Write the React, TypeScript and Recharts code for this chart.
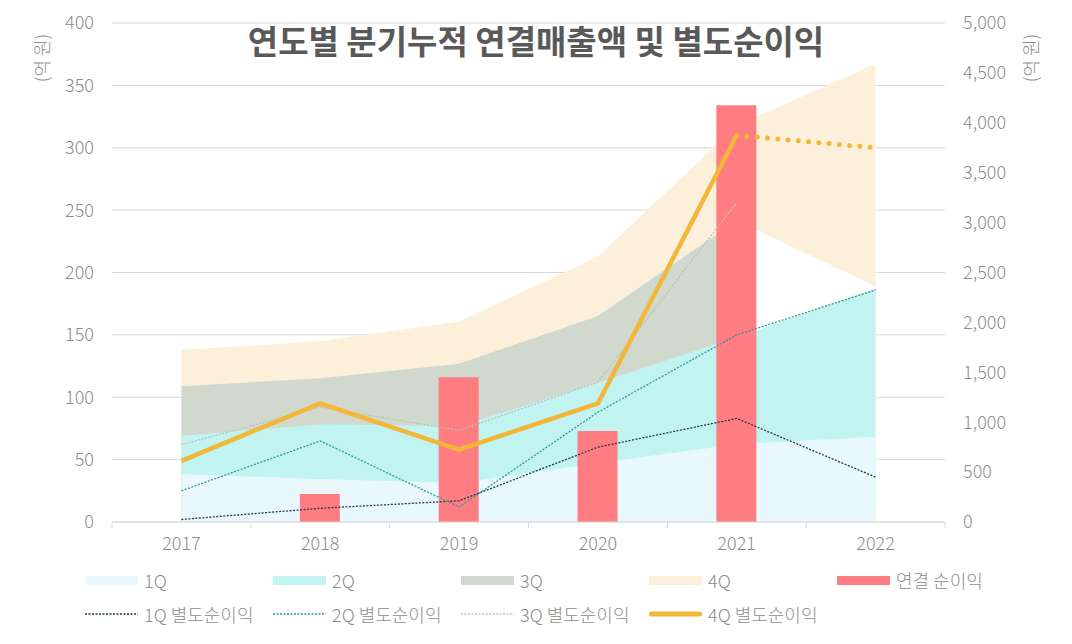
import { ComposedChart, Area, Bar, Line, XAxis, YAxis, CartesianGrid } from 'recharts'

// 연도별 분기누적 연결매출액 (우축, 억 원) / 순이익 (좌축, 억 원)
const years = ['2017', '2018', '2019', '2020', '2021', '2022']
const q1Sales = [480, 430, 390, 590, 780, 855]
const q2Sales = [865, 980, 960, 1395, 1850, 2340]
const q3Sales: (number | null)[] = [1360, 1440, 1585, 2065, 3020, null]
const q4Sales = [1725, 1810, 2010, 2660, 3975, 4590]
// 4Q 영역 아래쪽 빈 구간 (2021→2022)
const q4Lower: (number | null)[] = [null, null, null, null, 3020, 2360]

const consolidatedProfit: (number | null)[] = [null, 22.5, 116, 73, 334, null]
const q1Profit = [2, 11, 17, 60, 83, 36]
const q2Profit = [25, 65, 12, 88, 150, 186]
const q3Profit: (number | null)[] = [62, 92, 73.5, 112, 256, null]
const q4Profit: (number | null)[] = [49, 95, 58, 95, 310, null]
const q4ProfitEst: (number | null)[] = [null, null, null, null, 310, 300]

const leftTicks = [0, 50, 100, 150, 200, 250, 300, 350, 400]
const rightTicks = [0, 500, 1000, 1500, 2000, 2500, 3000, 3500, 4000, 4500, 5000]

const FONT = '"Noto Sans CJK KR", "Noto Sans", sans-serif'
const TEXT = '#8c8c8c'
const GRID = '#d9d9d9'

const C = {
  q1: '#e8f8fd',
  q2: '#c1f3f0',
  q3: '#d1d8cd',
  q4: '#fcf0da',
  bar: '#ff7c80',
  l1: '#1f3b4d',
  l2: '#2e9a99',
  l3: '#b9c5b6',
  l4: '#f2b738',
}

const data = years.map((y, i) => ({
  year: y,
  q1: q1Sales[i],
  q2: q2Sales[i],
  q3: q3Sales[i],
  q4: q4Sales[i],
  q4Lower: q4Lower[i],
  profit: consolidatedProfit[i],
  p1: q1Profit[i],
  p2: q2Profit[i],
  p3: q3Profit[i],
  p4: q4Profit[i],
  p4e: q4ProfitEst[i],
}))

const W = 1072
const H = 560
const margin = { top: 23, right: 67, left: 52, bottom: 8 }
const halfBand = (W - margin.left - margin.right - 120) / years.length / 2

const XTick = (props: any) => {
  const { x, y, payload, index } = props
  return (
    <g>
      <line x1={x - halfBand} x2={x - halfBand} y1={y} y2={y + 6} stroke={GRID} />
      {index === years.length - 1 && (
        <line x1={x + halfBand} x2={x + halfBand} y1={y} y2={y + 6} stroke={GRID} />
      )}
      <text x={x} y={y + 22} dy="0.355em" textAnchor="middle" fill={TEXT} fontSize={18} fontWeight={300} fontFamily={FONT}>
        {payload.value}
      </text>
    </g>
  )
}

const legendRow1 = [
  { name: '1Q', color: C.q1 },
  { name: '2Q', color: C.q2 },
  { name: '3Q', color: C.q3 },
  { name: '4Q', color: C.q4 },
  { name: '연결 순이익', color: C.bar },
]
const legendRow2 = [
  { name: '1Q 별도순이익', color: C.l1, width: 1.3, dash: '2 1.5' },
  { name: '2Q 별도순이익', color: C.l2, width: 1.3, dash: '2 1.5' },
  { name: '3Q 별도순이익', color: C.l3, width: 1.3, dash: '2 1.5' },
  { name: '4Q 별도순이익', color: C.l4, width: 5, dash: undefined },
]

const legendText = { color: TEXT, fontSize: 18, fontWeight: 300, fontFamily: FONT, marginLeft: 6 }

export default function App() {
  return (
    <div style={{ position: 'absolute', left: 0, top: 0, width: W, height: 644, background: '#fff', fontFamily: FONT }}>
      <ComposedChart width={W} height={H} data={data} margin={margin}>
        <CartesianGrid vertical={false} stroke={GRID} yAxisId="left" />
        <XAxis
          dataKey="year"
          height={30}
          tickSize={0}
          tickMargin={0}
          tickLine={false}
          axisLine={{ stroke: GRID }}
          tick={<XTick />}
          interval={0}
        />
        <YAxis
          yAxisId="left"
          width={60}
          domain={[0, 400]}
          ticks={leftTicks}
          interval={0}
          axisLine={false}
          tickLine={false}
          tickSize={0}
          tickMargin={18}
          tick={{ fill: TEXT, fontSize: 18, fontWeight: 300, fontFamily: FONT }}
        />
        <YAxis
          yAxisId="right"
          orientation="right"
          width={60}
          domain={[0, 5000]}
          ticks={rightTicks}
          interval={0}
          axisLine={false}
          tickLine={false}
          tickSize={0}
          tickMargin={18}
          tickFormatter={(v) => v.toLocaleString('en-US')}
          tick={{ fill: TEXT, fontSize: 18, fontWeight: 300, fontFamily: FONT, textAnchor: 'start' }}
        />
        <Area yAxisId="right" dataKey="q4" type="linear" stroke="none" fill={C.q4} fillOpacity={1} isAnimationActive={false} />
        <Area yAxisId="right" dataKey="q4Lower" type="linear" stroke="none" fill="#ffffff" fillOpacity={1} isAnimationActive={false} />
        <Area yAxisId="right" dataKey="q3" type="linear" stroke="none" fill={C.q3} fillOpacity={1} isAnimationActive={false} />
        <Area yAxisId="right" dataKey="q2" type="linear" stroke="none" fill={C.q2} fillOpacity={1} isAnimationActive={false} />
        <Area yAxisId="right" dataKey="q1" type="linear" stroke="none" fill={C.q1} fillOpacity={1} isAnimationActive={false} />
        <Bar yAxisId="left" dataKey="profit" fill={C.bar} barSize={40} isAnimationActive={false} />
        <Line yAxisId="left" dataKey="p1" type="linear" stroke={C.l1} strokeWidth={1.3} strokeDasharray="2 1.5" dot={false} activeDot={false} isAnimationActive={false} />
        <Line yAxisId="left" dataKey="p2" type="linear" stroke={C.l2} strokeWidth={1.3} strokeDasharray="2 1.5" dot={false} activeDot={false} isAnimationActive={false} />
        <Line yAxisId="left" dataKey="p3" type="linear" stroke={C.l3} strokeWidth={1.3} strokeDasharray="2 1.5" dot={false} activeDot={false} isAnimationActive={false} />
        <Line yAxisId="left" dataKey="p4" type="linear" stroke={C.l4} strokeWidth={4.5} dot={false} activeDot={false} isAnimationActive={false} />
        <Line yAxisId="left" dataKey="p4e" type="linear" stroke={C.l4} strokeWidth={5} strokeDasharray="0 10.3" strokeLinecap="round" dot={false} activeDot={false} isAnimationActive={false} />
      </ComposedChart>

      <div style={{ position: 'absolute', left: 0, width: W, top: 21, lineHeight: '38px', textAlign: 'center', fontSize: 33, fontWeight: 700, color: '#595959' }}>
        연도별 분기누적 연결매출액 및 별도순이익
      </div>
      <div style={{ position: 'absolute', left: 41, top: 58, transform: 'translate(-50%, -50%) rotate(-90deg)', whiteSpace: 'nowrap', ...legendText, marginLeft: 0 }}>
        (억 원)
      </div>
      <div style={{ position: 'absolute', left: 1030, top: 58, transform: 'translate(-50%, -50%) rotate(-90deg)', whiteSpace: 'nowrap', ...legendText, marginLeft: 0 }}>
        (억 원)
      </div>

      <div style={{ position: 'absolute', left: 85, top: 568, display: 'flex' }}>
        {legendRow1.map((it) => (
          <div key={it.name} style={{ width: 188, height: 24, display: 'flex', alignItems: 'center' }}>
            <div style={{ width: 53, height: 9, background: it.color }} />
            <span style={legendText}>{it.name}</span>
          </div>
        ))}
      </div>
      <div style={{ position: 'absolute', left: 85, top: 602, display: 'flex' }}>
        {legendRow2.map((it) => (
          <div key={it.name} style={{ width: 188, height: 24, display: 'flex', alignItems: 'center' }}>
            <svg width={53} height={8}>
              <line
                x1={it.dash ? 0 : 2.5}
                x2={it.dash ? 53 : 50.5}
                y1={4}
                y2={4}
                stroke={it.color}
                strokeWidth={it.width}
                strokeDasharray={it.dash}
                strokeLinecap={it.dash ? 'butt' : 'round'}
              />
            </svg>
            <span style={legendText}>{it.name}</span>
          </div>
        ))}
      </div>
    </div>
  )
}
